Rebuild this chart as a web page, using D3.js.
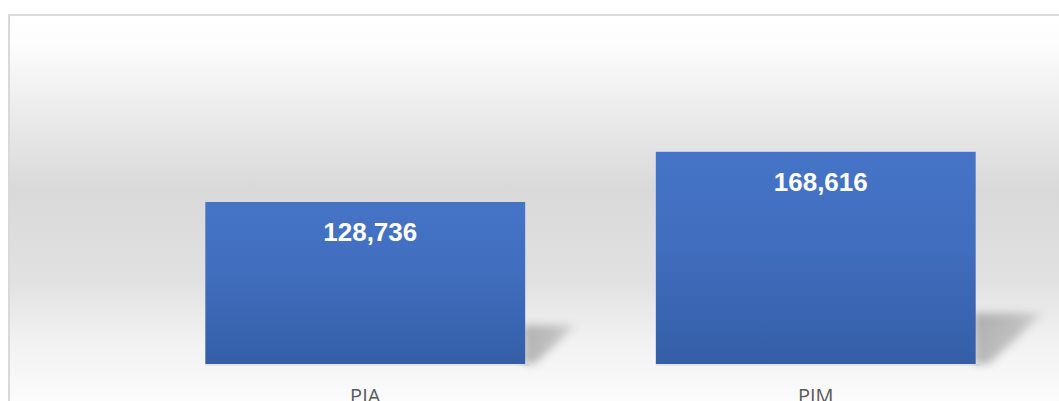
<!DOCTYPE html>
<html>
<head>
<meta charset="utf-8">
<script src="https://cdnjs.cloudflare.com/ajax/libs/d3/7.8.5/d3.min.js"></script>
<style>
  body { margin: 0; background: #fff; overflow: hidden; }
</style>
</head>
<body>
<svg width="1059" height="401"></svg>
<script>
var categories = ['PIA', 'PIM'];
var values = [128736, 168616];

var svg = d3.select('svg');
var width = +svg.attr('width'),
    height = +svg.attr('height');

var format = d3.format(',d');

var defs = svg.append('defs');

// background gradient, white -> gray -> white
var bg = defs.append('linearGradient')
    .attr('id', 'bgGrad')
    .attr('gradientUnits', 'userSpaceOnUse')
    .attr('x1', 0).attr('y1', 15)
    .attr('x2', 0).attr('y2', 410);
[[0, '#ffffff'], [0.07, '#fdfdfd'], [0.22, '#eeeeee'], [0.44, '#d9d9d9'],
 [0.67, '#e1e1e1'], [0.82, '#f1f1f1'], [1, '#fdfdfd']].forEach(function(s) {
    bg.append('stop').attr('offset', s[0]).attr('stop-color', s[1]);
});

// bar gradient
var barGrad = defs.append('linearGradient')
    .attr('id', 'barGrad')
    .attr('x1', 0).attr('y1', 0)
    .attr('x2', 0).attr('y2', 1);
barGrad.append('stop').attr('offset', 0).attr('stop-color', '#4574c6');
barGrad.append('stop').attr('offset', 0.45).attr('stop-color', '#416dbe');
barGrad.append('stop').attr('offset', 1).attr('stop-color', '#345ea7');

// shadow fades away from the bar
var shGrad = defs.append('linearGradient')
    .attr('id', 'shGrad')
    .attr('x1', 0).attr('y1', 0)
    .attr('x2', 1).attr('y2', 0);
shGrad.append('stop').attr('offset', 0).attr('stop-color', '#000').attr('stop-opacity', 0.26);
shGrad.append('stop').attr('offset', 0.6).attr('stop-color', '#000').attr('stop-opacity', 0.2);
shGrad.append('stop').attr('offset', 1).attr('stop-color', '#000').attr('stop-opacity', 0.08);

defs.append('filter')
    .attr('id', 'blur')
    .attr('x', '-30%').attr('y', '-30%')
    .attr('width', '160%').attr('height', '160%')
  .append('feGaussianBlur')
    .attr('stdDeviation', 4.5);

// chart frame
svg.append('rect')
    .attr('x', 9)
    .attr('y', 15)
    .attr('width', 1100)
    .attr('height', 450)
    .style('fill', 'url(#bgGrad)')
    .style('stroke', '#d9d9d9')
    .style('stroke-width', 2);

var xScale = d3.scaleBand()
    .domain(categories)
    .range([140, 1041])
    .paddingInner(0.29)
    .paddingOuter(0.145);

var yScale = d3.scaleLinear()
    .domain([0, 200000])
    .range([364, 112.3]);

var y0 = yScale(0);

var bars = svg.selectAll('.bar')
    .data(categories.map(function(c, i) { return { name: c, value: values[i] }; }))
    .enter().append('g')
    .attr('class', 'bar');

// perspective shadow behind each bar
bars.append('polygon')
    .attr('points', function(d) {
        var x1 = xScale(d.name) + xScale.bandwidth() - 2;
        var h = y0 - yScale(d.value);
        return [
            [x1, y0],
            [x1, y0 - 0.24 * h],
            [x1 + 0.33 * h, y0 - 0.24 * h],
            [x1 + 0.07 * h, y0]
        ].join(' ');
    })
    .style('fill', 'url(#shGrad)')
    .attr('filter', 'url(#blur)');

// faint line under bar
bars.append('rect')
    .attr('x', function(d) { return xScale(d.name); })
    .attr('y', y0)
    .attr('width', xScale.bandwidth() + 4)
    .attr('height', 2)
    .style('fill', '#000')
    .style('opacity', 0.06);

bars.append('rect')
    .attr('x', function(d) { return xScale(d.name); })
    .attr('y', function(d) { return yScale(d.value); })
    .attr('width', xScale.bandwidth())
    .attr('height', function(d) { return y0 - yScale(d.value); })
    .style('fill', 'url(#barGrad)');

bars.append('text')
    .attr('x', function(d) { return xScale(d.name) + xScale.bandwidth() / 2 + 5; })
    .attr('y', function(d) { return yScale(d.value) + 39.5; })
    .style('text-anchor', 'middle')
    .style('font-family', '"Liberation Sans", Arial, sans-serif')
    .style('font-weight', 'bold')
    .style('font-size', '26px')
    .style('fill', '#ffffff')
    .text(function(d) { return format(d.value); });

// category labels (cut by bottom edge)
svg.selectAll('.cat')
    .data(categories)
    .enter().append('text')
    .attr('class', 'cat')
    .attr('x', function(d) { return xScale(d) + xScale.bandwidth() / 2; })
    .attr('y', 402.5)
    .style('text-anchor', 'middle')
    .style('font-family', '"Open Sans", sans-serif')
    .style('font-size', '20px')
    .style('fill', '#595959')
    .text(function(d) { return d; });
</script>
</body>
</html>
